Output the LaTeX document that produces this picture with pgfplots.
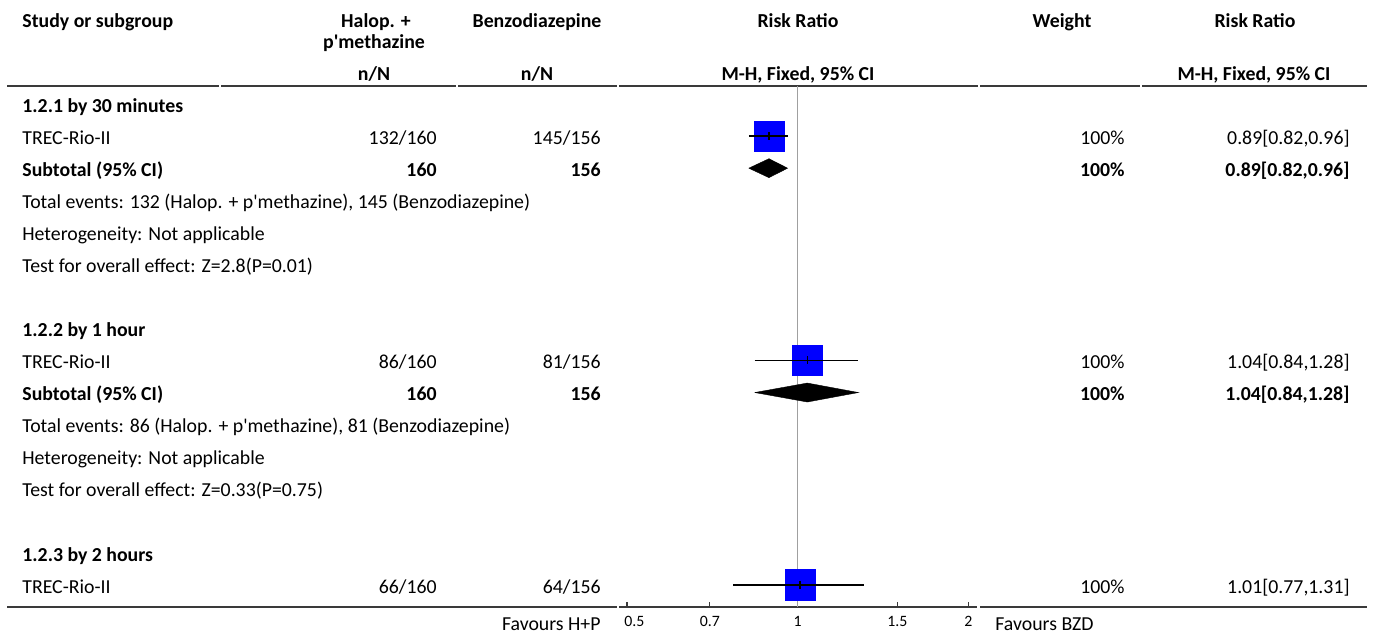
\documentclass[border=0pt]{standalone}
\usepackage{fontspec}
\setmainfont{Carlito}
\usepackage{pgfplots}
\pgfplotsset{compat=1.18}
\definecolor{rule}{HTML}{3A3A3A}
\definecolor{refline}{HTML}{A0A0A0}
\definecolor{boxblue}{HTML}{0000FF}

% baseline of table row k (pixel units, y downward)
\newcommand\rb[1]{{112.3+32.05*#1}}

\begin{document}
\fontsize{9.9}{11.5}\selectfont
\begin{tikzpicture}
\begin{scope}[x=0.5pt,y=-0.5pt,
  L/.style={anchor=base west,inner sep=0pt},
  R/.style={anchor=base east,inner sep=0pt},
  C/.style={anchor=base,inner sep=0pt}]
\useasboundingbox (0,0) rectangle (1375,634);

% ---- column headers
\begin{scope}[every node/.append style={font=\bfseries}]
\node[L] at (22,27) {Study or subgroup};
\node[C] at (376,27) {Halop. +};
\node[C] at (374,48.5) {p\textquotesingle methazine};
\node[C] at (537,27) {Benzodiazepine};
\node[C] at (798,27) {Risk Ratio};
\node[C] at (1062,27) {Weight};
\node[C] at (1255,27) {Risk Ratio};
\node[C] at (374,80) {n/N};
\node[C] at (537,80) {n/N};
\node[C] at (798,80) {M-H, Fixed, 95\% CI};
\node[C] at (1254,80) {M-H, Fixed, 95\% CI};
\end{scope}

% header rule, broken at the column boundaries
\foreach \a/\b in {7/219,221/456,458/617,619/978,980/1140,1142/1367}
  \draw[rule,line width=1pt] (\a,86) -- (\b,86);

% ---- 1.2.1 by 30 minutes
\node[L,font=\bfseries] at (22,\rb{0}) {1.2.1 by 30 minutes};
\node[L] at (22,\rb{1}) {TREC-Rio-II};
\node[R] at (437,\rb{1}) {132/160};
\node[R] at (601,\rb{1}) {145/156};
\node[R] at (1125,\rb{1}) {100\%};
\node[R] at (1350,\rb{1}) {0.89[0.82,0.96]};
\begin{scope}[every node/.append style={font=\bfseries}]
\node[L] at (22,\rb{2}) {Subtotal (95\% CI)};
\node[R] at (437,\rb{2}) {160};
\node[R] at (601,\rb{2}) {156};
\node[R] at (1125,\rb{2}) {100\%};
\node[R] at (1350,\rb{2}) {0.89[0.82,0.96]};
\end{scope}
\node[L] at (22,\rb{3}) {Total events: 132 (Halop. + p\textquotesingle methazine), 145 (Benzodiazepine)};
\node[L] at (22,\rb{4}) {Heterogeneity: Not applicable};
\node[L] at (22,\rb{5}) {Test for overall effect: Z=2.8(P=0.01)};

% ---- 1.2.2 by 1 hour
\node[L,font=\bfseries] at (22,\rb{7}) {1.2.2 by 1 hour};
\node[L] at (22,\rb{8}) {TREC-Rio-II};
\node[R] at (437,\rb{8}) {86/160};
\node[R] at (601,\rb{8}) {81/156};
\node[R] at (1125,\rb{8}) {100\%};
\node[R] at (1350,\rb{8}) {1.04[0.84,1.28]};
\begin{scope}[every node/.append style={font=\bfseries}]
\node[L] at (22,\rb{9}) {Subtotal (95\% CI)};
\node[R] at (437,\rb{9}) {160};
\node[R] at (601,\rb{9}) {156};
\node[R] at (1125,\rb{9}) {100\%};
\node[R] at (1350,\rb{9}) {1.04[0.84,1.28]};
\end{scope}
\node[L] at (22,\rb{10}) {Total events: 86 (Halop. + p\textquotesingle methazine), 81 (Benzodiazepine)};
\node[L] at (22,\rb{11}) {Heterogeneity: Not applicable};
\node[L] at (22,\rb{12}) {Test for overall effect: Z=0.33(P=0.75)};

% ---- 1.2.3 by 2 hours
\node[L,font=\bfseries] at (22,\rb{14}) {1.2.3 by 2 hours};
\node[L] at (22,\rb{15}) {TREC-Rio-II};
\node[R] at (437,\rb{15}) {66/160};
\node[R] at (601,\rb{15}) {64/156};
\node[R] at (1125,\rb{15}) {100\%};
\node[R] at (1350,\rb{15}) {1.01[0.77,1.31]};

% bottom rule either side of the scale
\draw[rule,line width=1pt] (7,606.7) -- (617,606.7);
\draw[rule,line width=1pt] (980,606.7) -- (1367,606.7);
\node[R] at (601,630.7) {Favours H+P};
\node[L] at (995,630.7) {Favours BZD};
\end{scope}

% ---- forest plot (rows at y = -k)
\begin{axis}[
  at={(309.5pt,-303.35pt)}, anchor=south west,
  scale only axis, width=179pt, height=260.35pt,
  xmode=log, xmin=0.484, xmax=2.072,
  ymin=-15.623, ymax=0.624,
  axis y line=none, axis x line*=bottom,
  x axis line style={-, draw=rule, line width=1pt},
  xtick={0.5,0.7,1,1.5,2},
  xticklabels={\rlap{\kern-1.35pt 0.5},0.7,1,1.5,2},
  minor tick length=0pt,
  tick align=inside, major tick length=2.6pt,
  tick style={draw=rule, line width=0.6pt},
  xticklabel style={anchor=base, yshift=-9.65pt, inner sep=0pt,
                    font=\fontsize{7.9}{9}\selectfont},
  clip=false, clip marker paths=true,
]
% line of no effect
\addplot[refline, line width=0.75pt] coordinates {(1,0.624) (1,-15.623)};
% study estimates (equal weight)
\addplot[only marks, mark=square*, mark size=7.6pt,
         mark options={fill=boxblue, draw=boxblue, line width=0.2pt}]
  coordinates {(0.89,-0.94) (1.04,-7.94) (1.01,-14.94)};
% 95% confidence intervals
\addplot[black, line width=0.8pt] coordinates {(0.82,-0.94) (0.96,-0.94)};
\addplot[black, line width=0.8pt] coordinates {(0.84,-7.94) (1.28,-7.94)};
\addplot[black, line width=0.8pt] coordinates {(0.77,-14.94) (1.31,-14.94)};
\addplot[only marks, mark=|, mark size=2pt, mark options={black, line width=0.8pt}]
  coordinates {(0.89,-0.94) (1.04,-7.94) (1.01,-14.94)};
% pooled subtotals
\addplot[fill=black, draw=black, line width=0.2pt]
  coordinates {(0.82,-1.94) (0.89,-1.644) (0.96,-1.94) (0.89,-2.236) (0.82,-1.94)};
\addplot[fill=black, draw=black, line width=0.2pt]
  coordinates {(0.84,-8.94) (1.04,-8.644) (1.28,-8.94) (1.04,-9.236) (0.84,-8.94)};
\end{axis}
\end{tikzpicture}
\end{document}
